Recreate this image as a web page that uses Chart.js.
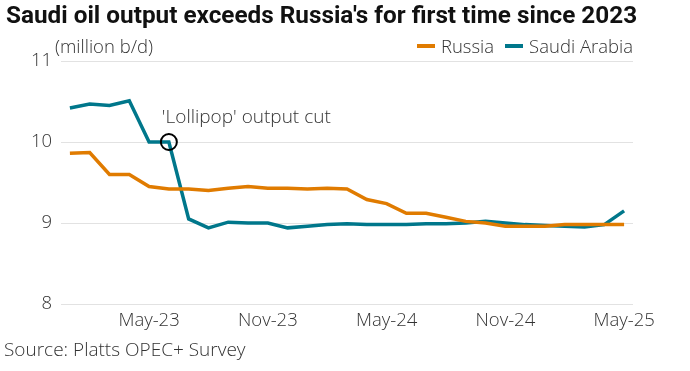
<!DOCTYPE html>
<html>
<head>
<meta charset="utf-8">
<script src="https://cdn.jsdelivr.net/npm/chart.js@4.4.1/dist/chart.umd.min.js"></script>
<style>
  html, body { margin: 0; padding: 0; background: #fff; }
  #wrap { position: relative; width: 690px; height: 371px; overflow: hidden; font-family: "Open Sans", Roboto, sans-serif; }
  #title { position: absolute; left: 6px; top: 0px; font-family: Roboto, sans-serif; font-size: 24.3px; font-weight: 700; color: #111; white-space: nowrap; }
  #unit { position: absolute; left: 55px; top: 33px; font-size: 18.5px; font-weight: 300; color: #333; }
  #legend { position: absolute; right: 57px; top: 33px; font-size: 18.5px; font-weight: 300; color: #333; display: flex; align-items: center; }
  #legend .sw { display: inline-block; width: 18px; height: 4px; margin-right: 6px; }
  #legend .item { display: flex; align-items: center; margin-left: 11px; }
  #source { position: absolute; left: 4px; top: 336px; font-size: 19px; font-weight: 300; color: #333; white-space: nowrap; }
  canvas { position: absolute; left: 0; top: 0; }
</style>
</head>
<body>
<div id="wrap">
  <canvas id="lineChart" width="690" height="371"></canvas>
  <div id="title">Saudi oil output exceeds Russia's for first time since 2023</div>
  <div id="unit">(million b/d)</div>
  <div id="legend"></div>
  <div id="source">Source: Platts OPEC+ Survey</div>
</div>
<script>
const months = [
    'Jan-23', 'Feb-23', 'Mar-23', 'Apr-23', 'May-23', 'Jun-23', 'Jul-23', 'Aug-23', 'Sep-23', 'Oct-23', 'Nov-23', 'Dec-23',
    'Jan-24', 'Feb-24', 'Mar-24', 'Apr-24', 'May-24', 'Jun-24', 'Jul-24', 'Aug-24', 'Sep-24', 'Oct-24', 'Nov-24', 'Dec-24',
    'Jan-25', 'Feb-25', 'Mar-25', 'Apr-25', 'May-25'
];
const russia = [
    9.86, 9.87, 9.60, 9.60, 9.45, 9.42, 9.42, 9.40, 9.43, 9.45, 9.43, 9.43,
    9.42, 9.43, 9.42, 9.29, 9.24, 9.12, 9.12, 9.07, 9.02, 9.00, 8.96, 8.96,
    8.96, 8.98, 8.98, 8.98, 8.98
];
const saudiArabia = [
    10.42, 10.47, 10.45, 10.51, 10.00, 10.00, 9.05, 8.94, 9.01, 9.00, 9.00, 8.94,
    8.96, 8.98, 8.99, 8.98, 8.98, 8.98, 8.99, 8.99, 9.00, 9.02, 9.00, 8.98,
    8.97, 8.96, 8.95, 8.98, 9.15
];
const xTickLabels = ['May-23', 'Nov-23', 'May-24', 'Nov-24', 'May-25'];
const yTicks = [8, 9, 10, 11];
const seriesNames = ['Russia', 'Saudi Arabia'];
const seriesColors = ['#e07b00', '#00778b'];
const noteText = "'Lollipop' output cut";
const noteMonth = 'Jun-23';

function buildLineChart() {
    const ctx = document.getElementById('lineChart');
    const font = { family: '"Open Sans", Roboto, sans-serif', size: 18.5, weight: 300 };

    const toPoints = (arr) => arr.map((v, i) => ({ x: i, y: v }));
    const tickIdx = xTickLabels.map((l) => months.indexOf(l));

    // legend in html
    const legend = document.getElementById('legend');
    seriesNames.forEach((name, i) => {
        const item = document.createElement('span');
        item.className = 'item';
        item.innerHTML = '<span class="sw" style="background:' + seriesColors[i] + '"></span>' + name;
        legend.appendChild(item);
    });

    const notePlugin = {
        id: 'note',
        afterDatasetsDraw(chart) {
            const i = months.indexOf(noteMonth);
            const x = chart.scales.x.getPixelForValue(i);
            const y = chart.scales.y.getPixelForValue(saudiArabia[i]);
            const c = chart.ctx;
            c.save();
            c.beginPath();
            c.arc(x, y, 8, 0, Math.PI * 2);
            c.lineWidth = 2;
            c.strokeStyle = '#000';
            c.stroke();
            c.font = '300 19px "Open Sans", Roboto, sans-serif';
            c.fillStyle = '#333';
            c.textAlign = 'left';
            c.textBaseline = 'middle';
            c.fillText(noteText, x - 7, y - 24);
            c.restore();
        }
    };

    const config = {
        type: 'line',
        data: {
            datasets: [
                { label: seriesNames[0], data: toPoints(russia), borderColor: seriesColors[0] },
                { label: seriesNames[1], data: toPoints(saudiArabia), borderColor: seriesColors[1] }
            ]
        },
        options: {
            responsive: false,
            animation: false,
            layout: { padding: { left: 0, right: 57, top: 61, bottom: 37 } },
            elements: {
                line: { borderWidth: 3.5, tension: 0, borderJoinStyle: 'miter' },
                point: { radius: 0 }
            },
            plugins: {
                legend: { display: false },
                tooltip: { enabled: false }
            },
            scales: {
                x: {
                    type: 'linear',
                    min: -0.45,
                    max: months.length - 1 + 0.45,
                    grid: { display: false, drawTicks: false },
                    border: { display: false },
                    afterBuildTicks: (scale) => { scale.ticks = tickIdx.map((v) => ({ value: v })); },
                    afterFit: (scale) => { scale.height = 30; },
                    ticks: {
                        autoSkip: false,
                        maxRotation: 0,
                        padding: 6,
                        color: '#333',
                        font: font,
                        callback: (v) => months[v]
                    }
                },
                y: {
                    min: yTicks[0],
                    max: yTicks[yTicks.length - 1],
                    grid: { color: '#e2e2e2', lineWidth: 1, drawTicks: false },
                    border: { display: false },
                    afterBuildTicks: (scale) => { scale.ticks = yTicks.map((v) => ({ value: v })); },
                    afterFit: (scale) => { scale.width = 61; },
                    ticks: { padding: 9, color: '#333', font: font }
                }
            }
        },
        plugins: [notePlugin]
    };

    new Chart(ctx, config);
}

document.fonts.load('300 18px "Open Sans"').then(buildLineChart, buildLineChart);
</script>
</body>
</html>
